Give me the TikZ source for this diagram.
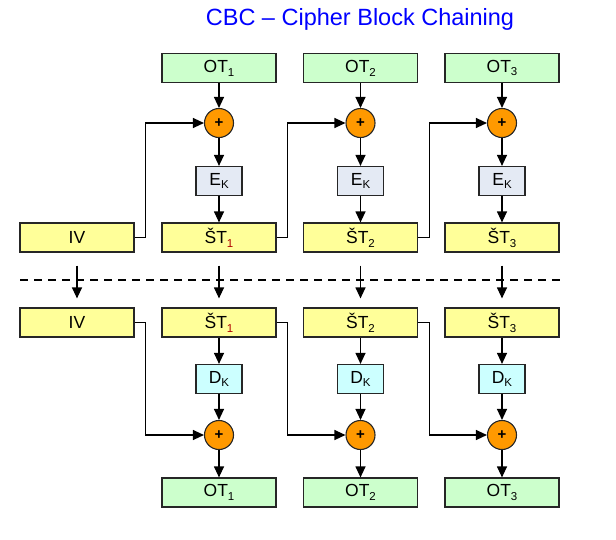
\documentclass[tikz,border=0pt]{standalone}
\usepackage{fontspec}
\setmainfont{Liberation Sans}
\usetikzlibrary{arrows.meta}
\definecolor{otgreen}{HTML}{CCFFCC}
\definecolor{styellow}{HTML}{FFFF99}
\definecolor{ekblue}{HTML}{E4EAF4}
\definecolor{dkcyan}{HTML}{CCFFFF}
\definecolor{xororange}{HTML}{FF9900}
\definecolor{subred}{HTML}{B00000}
\newcommand{\lsub}[1]{\raisebox{-0.22em}{\fontsize{11.5}{11.5}\selectfont #1}}
\tikzset{
  box/.style={draw=black!85, line width=1.2pt, minimum width=114pt, minimum height=29pt, inner sep=0pt, font=\fontsize{17.5}{17.5}\selectfont},
  otbox/.style={box, fill=otgreen},
  stbox/.style={box, fill=styellow},
  keybox/.style={draw=black!85, line width=1.2pt, minimum width=46pt, minimum height=29pt, inner sep=0pt, font=\fontsize{17.5}{17.5}\selectfont},
  ekbox/.style={keybox, fill=ekblue},
  dkbox/.style={keybox, fill=dkcyan},
  xor/.style={circle, draw=black!85, line width=1.1pt, fill=xororange, minimum size=29pt, inner sep=0pt, font=\fontsize{15}{15}\selectfont\bfseries},
  arr/.style={line width=1.2pt, -{Triangle[length=11pt,width=10pt]}},
  ln/.style={line width=1.2pt}
}
\begin{document}
\begin{tikzpicture}[x=1pt,y=-1pt]
\useasboundingbox (0,0) rectangle (616,539);
\node[text=blue, font=\fontsize{23.5}{23.5}\selectfont] (title) at (360,19) {CBC – Cipher Block Chaining};
% encryption
\node[otbox] (ot1) at (219,68) {OT\lsub{1}};
\node[otbox] (ot2) at (360.5,68) {OT\lsub{2}};
\node[otbox] (ot3) at (502,68) {OT\lsub{3}};
\node[xor] (x1) at (219,123) {+};
\node[xor] (x2) at (360.5,123) {+};
\node[xor] (x3) at (502,123) {+};
\node[ekbox] (e1) at (219,181) {E\lsub{K}};
\node[ekbox] (e2) at (360.5,181) {E\lsub{K}};
\node[ekbox] (e3) at (502,181) {E\lsub{K}};
\node[stbox] (iv) at (77,237.5) {IV};
\node[stbox] (s1) at (219,237.5) {ŠT\lsub{\color{subred}1}};
\node[stbox] (s2) at (360.5,237.5) {ŠT\lsub{2}};
\node[stbox] (s3) at (502,237.5) {ŠT\lsub{3}};
\foreach \i in {1,2,3}{
  \draw[arr] (ot\i) -- (x\i);
  \draw[arr] (x\i) -- (e\i);
  \draw[arr] (e\i) -- (s\i);
}
\draw[arr] (iv.east) -- ++(11,0) |- (x1.west);
\draw[arr] (s1.east) -- ++(11,0) |- (x2.west);
\draw[arr] (s2.east) -- ++(11,0) |- (x3.west);
% separator
\coordinate (dl) at (20,280);
\coordinate (dr) at (560,280);
\draw[line width=1.2pt, dash pattern=on 8pt off 6pt] (dl) -- (dr);
% decryption
\node[stbox] (biv) at (77,322.5) {IV};
\node[stbox] (bs1) at (219,322.5) {ŠT\lsub{\color{subred}1}};
\node[stbox] (bs2) at (360.5,322.5) {ŠT\lsub{2}};
\node[stbox] (bs3) at (502,322.5) {ŠT\lsub{3}};
\node[dkbox] (d1) at (219,379) {D\lsub{K}};
\node[dkbox] (d2) at (360.5,379) {D\lsub{K}};
\node[dkbox] (d3) at (502,379) {D\lsub{K}};
\node[xor] (y1) at (219,435) {+};
\node[xor] (y2) at (360.5,435) {+};
\node[xor] (y3) at (502,435) {+};
\node[otbox] (bo1) at (219,492.5) {OT\lsub{1}};
\node[otbox] (bo2) at (360.5,492.5) {OT\lsub{2}};
\node[otbox] (bo3) at (502,492.5) {OT\lsub{3}};
\draw[arr, shorten <=13pt, shorten >=9pt] (iv) -- (biv);
\foreach \i in {1,2,3}{
  \draw[arr, shorten <=13pt, shorten >=9pt] (s\i) -- (bs\i);
  \draw[arr] (bs\i) -- (d\i);
  \draw[arr] (d\i) -- (y\i);
  \draw[arr] (y\i) -- (bo\i);
}
\draw[arr] (biv.east) -- ++(11,0) |- (y1.west);
\draw[arr] (bs1.east) -- ++(11,0) |- (y2.west);
\draw[arr] (bs2.east) -- ++(11,0) |- (y3.west);
\end{tikzpicture}
\end{document}
